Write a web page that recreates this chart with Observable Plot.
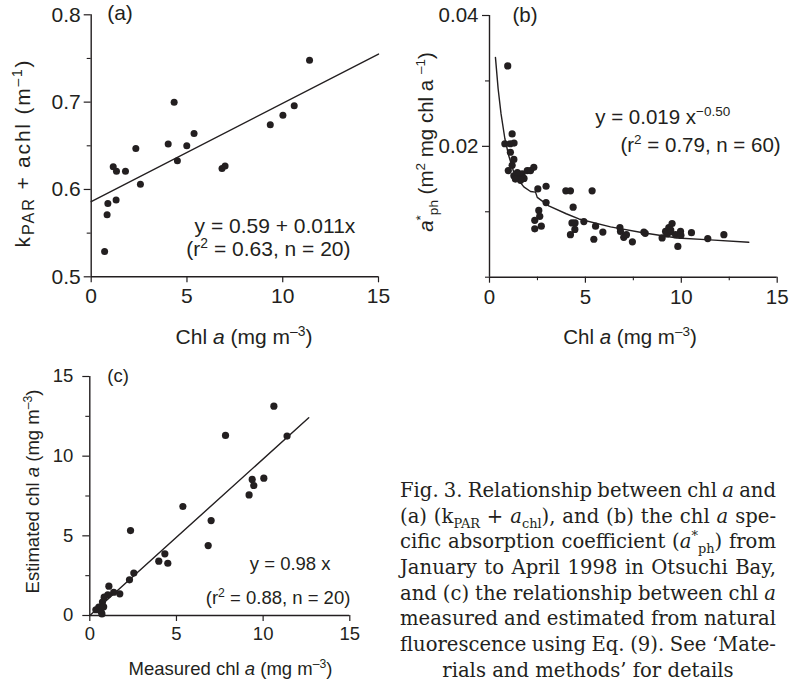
<!DOCTYPE html>
<html>
<head>
<meta charset="utf-8">
<script src="https://cdn.jsdelivr.net/npm/d3@7"></script>
<script src="https://cdn.jsdelivr.net/npm/@observablehq/plot@0.6"></script>
<style>
html,body{margin:0;padding:0;background:#fff;}
#fig{position:relative;width:807px;height:685px;overflow:hidden;background:#fff;}
#fig svg{position:absolute;overflow:visible;}
#caption{position:absolute;left:400px;top:478px;width:376px;font-family:"DejaVu Serif",serif;font-size:19.6px;color:#231f20;}
#caption .ln{height:25.7px;line-height:25.7px;white-space:nowrap;}
#caption .ln span.t{display:inline-block;}
#caption .ln.last{text-align:center;}
#caption sub,#caption sup{font-size:66%;line-height:0;}
</style>
</head>
<body>
<div id="fig"><div id="caption"></div></div>
<script>
// ---------- Panel (a): kPAR + achl vs Chl a ----------
const aChl  = [0.70,0.83,0.87,1.15,1.32,1.30,1.79,2.33,2.57,4.02,4.33,4.50,4.99,5.37,6.83,6.99,9.35,10.01,10.60,11.40];
const aKpar = [0.529,0.571,0.584,0.626,0.621,0.588,0.621,0.647,0.606,0.652,0.700,0.633,0.650,0.664,0.624,0.627,0.674,0.685,0.696,0.748];
const aFitChl = [0, 15];
const aFitK   = [0.586, 0.755];
const aXTicks = [0, 5, 10, 15];
const aYTicks = [0.5, 0.6, 0.7, 0.8];
const aYMinor = [0.55, 0.65, 0.75];

// ---------- Panel (b): a*ph vs Chl a ----------
const bChl = [0.95,1.18,0.80,1.08,1.28,1.09,1.27,1.18,0.98,1.27,1.50,1.70,1.80,1.45,1.97,2.14,2.31,1.62,2.52,2.95,
              2.95,2.57,2.62,2.36,2.70,2.36,3.98,4.22,5.35,4.36,4.30,4.46,4.45,4.22,4.92,5.53,5.91,5.44,6.80,6.83,
              7.00,7.14,7.45,8.05,8.12,9.00,9.18,9.35,9.52,9.40,9.70,9.96,9.98,9.82,10.53,11.38,12.22,9.25,9.45,1.35];
const bAph = [0.0323,0.0219,0.0204,0.0204,0.0205,0.0191,0.0180,0.0171,0.0163,0.0155,0.0153,0.0158,0.0151,0.0160,0.0163,0.0163,0.0168,0.0148,0.0135,0.0139,
              0.0114,0.0102,0.0093,0.0087,0.0078,0.0074,0.0132,0.0132,0.0132,0.0107,0.0083,0.0083,0.0073,0.0065,0.0085,0.0078,0.0069,0.0058,0.0076,0.0070,
              0.0061,0.0065,0.0054,0.0069,0.0067,0.0060,0.0070,0.0076,0.0082,0.0069,0.0065,0.0070,0.0064,0.0047,0.0068,0.0059,0.0065,0.0066,0.0072,0.0150];
const bCurveChl = [0.31,0.45,0.60,0.80,1.00,1.27,1.55,1.79,2.14,2.40,2.49,3.09,4.00,4.66,6.31,8.00,9.79,11.50,13.52];
const bCurveAph = [0.0336,0.0288,0.0250,0.0212,0.0186,0.0160,0.0147,0.0138,0.0131,0.0130,0.0122,0.0109,0.0097,0.0089,0.0077,0.0068,0.0060,0.0057,0.00535];
const bXTicks = [0, 5, 10, 15];
const bXMinor = [2.5, 7.5, 12.5];
const bYTicks = [0.02, 0.04];
const bYMinor = [0, 0.01, 0.03];

// ---------- Panel (c): estimated vs measured chl a ----------
const cMeas = [10.62,7.83,11.38,10.04,9.37,9.46,9.19,5.37,7.00,2.35,6.83,4.33,3.98,4.50,2.54,2.29,1.10,1.73,1.38,1.04,0.83,0.73,0.52,0.35,0.65,0.80,0.70];
const cEst  = [13.14,11.30,11.26,8.62,8.54,8.16,7.57,6.84,5.96,5.33,4.39,3.87,3.41,3.28,2.66,2.24,1.84,1.36,1.46,1.30,1.15,0.84,0.52,0.36,0.25,0.55,0.10];
const cFitMeas = [0, 12.63];
const cFitEst  = [0, 12.41];
const cXTicks = [0, 5, 10, 15];
const cYTicks = [0, 5, 10, 15];
const cYMinor = [2.5, 7.5, 12.5];

// ---------- Caption ----------
const captionLines = [
  "Fig. 3. Relationship between chl <i>a</i> and",
  "(a) (k<sub>PAR</sub> + <i>a</i><sub>chl</sub>), and (b) the chl <i>a</i> spe-",
  "cific absorption coefficient (<i>a</i><sup>*</sup><sub>ph</sub>) from",
  "January to April 1998 in Otsuchi Bay,",
  "and (c) the relationship between chl <i>a</i>",
  "measured and estimated from natural",
  "fluorescence using Eq. (9). See \u2018Mate-",
  "rials and methods\u2019 for details"
];

const INK = "#231f20";
const SANS = "'Liberation Sans', Arial, Helvetica, sans-serif";
const fig = document.getElementById("fig");
const pts = (xs, ys) => xs.map((x, i) => ({x, y: ys[i]}));

function makePlot(c) {
  const p = Plot.plot({
    width: c.width, height: c.height,
    marginLeft: c.mL, marginRight: c.mR, marginTop: c.mT, marginBottom: c.mB,
    x: {domain: c.xDom}, y: {domain: c.yDom},
    style: {fontFamily: SANS, fontSize: c.fs + "px", color: INK, background: "none", overflow: "visible"},
    marks: c.marks
  });
  p.style.left = c.left + "px";
  p.style.top = c.top + "px";
  fig.appendChild(p);
  return p;
}

function rich(svg, x, y, parts, o = {}) {
  const size = o.size;
  const t = d3.select(svg).append("text")
    .attr("fill", INK).attr("font-family", SANS).attr("font-size", size)
    .attr("text-anchor", o.anchor || "middle");
  if (o.ls) t.attr("letter-spacing", o.ls);
  if (o.rotate) t.attr("transform", `translate(${x},${y}) rotate(-90)`);
  else t.attr("x", x).attr("y", y);
  let cur = 0;
  for (const p of parts) {
    const target = p.sup ? -size * 0.38 : p.sub ? size * 0.22 : 0;
    const s = t.append("tspan").text(p.t);
    if (target - cur !== 0) s.attr("dy", target - cur);
    cur = target;
    if (p.sup || p.sub) s.attr("font-size", size * (p.scale || 0.66));
    if (p.i) s.attr("font-style", "italic");
  }
  return t;
}

function axes(xT, yT, xMinor, yMinor, fs, o) {
  const m = [
    Plot.ruleY([Math.min(...yT, ...yMinor)], {stroke: INK, strokeWidth: 1.4}),
    Plot.ruleX([Math.min(...xT)], {stroke: INK, strokeWidth: 1.4}),
    Plot.axisX(xT, {tickSize: 6, tickPadding: o.xPad, label: null, fontSize: fs, strokeWidth: 1.2}),
    Plot.axisY(yT, {tickSize: 7, tickPadding: o.yPad, label: null, fontSize: fs, strokeWidth: 1.2, tickFormat: o.yFmt})
  ];
  if (xMinor.length) m.push(Plot.axisX(xMinor, {tickSize: 3.5, label: null, tickFormat: () => "", strokeWidth: 1.1}));
  if (yMinor.length) m.push(Plot.axisY(yMinor, {tickSize: 4, label: null, tickFormat: () => "", strokeWidth: 1.1}));
  return m;
}

// Panel (a)
const pa = makePlot({
  left: 0, top: 0, width: 400, height: 350, mL: 90.7, mR: 22, mT: 14.3, mB: 73.7,
  xDom: [aXTicks[0], aXTicks[3]], yDom: [aYTicks[0], aYTicks[3]], fs: 21,
  marks: [
    ...axes(aXTicks, aYTicks, [], aYMinor, 21, {xPad: 5, yPad: 3.5, yFmt: d => d.toFixed(1)}),
    Plot.line(pts(aFitChl, aFitK), {x: "x", y: "y", stroke: INK, strokeWidth: 1.4}),
    Plot.dot(pts(aChl, aKpar), {x: "x", y: "y", r: 3.5, fill: INK, stroke: "none"})
  ]
});
{
  const sx = pa.scale("x"), sy = pa.scale("y");
  rich(pa, sx.apply(1.53), sy.apply(0.794), [{t: "(a)"}], {size: 21});
  rich(pa, sx.apply(9.62), sy.apply(0.550), [{t: "y = 0.59 + 0.011x"}], {size: 21});
  rich(pa, sx.apply(9.28), sy.apply(0.523), [{t: "(r"}, {t: "2", sup: 1}, {t: " = 0.63, n = 20)"}], {size: 21});
  rich(pa, 244, 344, [{t: "Chl "}, {t: "a", i: 1}, {t: " (mg m"}, {t: "\u20133", sup: 1}, {t: ")"}], {size: 21});
  rich(pa, 29.5, 153, [{t: "k"}, {t: "PAR", sub: 1, scale: 0.78}, {t: " + achl (m"}, {t: "\u20131", sup: 1}, {t: ")"}], {size: 21, rotate: true, ls: 1.8});
}

// Panel (b)
const pb = makePlot({
  left: 400, top: 0, width: 407, height: 350, mL: 89, mR: 30.3, mT: 15, mB: 73.3,
  xDom: [bXTicks[0], bXTicks[3]], yDom: [bYMinor[0], bYTicks[1]], fs: 20.5,
  marks: [
    ...axes(bXTicks, bYTicks, bXMinor, bYMinor, 20.5, {xPad: 6, yPad: 4, yFmt: d => d.toFixed(2)}),
    Plot.line(pts(bCurveChl, bCurveAph), {x: "x", y: "y", stroke: INK, strokeWidth: 1.4, curve: "linear"}),
    Plot.dot(pts(bChl, bAph), {x: "x", y: "y", r: 3.6, fill: INK, stroke: "none"})
  ]
});
{
  const sx = pb.scale("x"), sy = pb.scale("y");
  rich(pb, sx.apply(1.88), sy.apply(0.039), [{t: "(b)"}], {size: 20.5});
  rich(pb, sx.apply(9.06), sy.apply(0.02335), [{t: "y = 0.019 x"}, {t: "\u22120.50", sup: 1}], {size: 20.5});
  rich(pb, sx.apply(11.03), sy.apply(0.01911), [{t: "(r"}, {t: "2", sup: 1}, {t: " = 0.79, n = 60)"}], {size: 20.5});
  rich(pb, 230, 343.5, [{t: "Chl "}, {t: "a", i: 1}, {t: " (mg m"}, {t: "\u20133", sup: 1}, {t: ")"}], {size: 20.5});
  rich(pb, 33, 142, [{t: "a", i: 1}, {t: "*", sup: 1}, {t: "ph", sub: 1}, {t: " (m"}, {t: "2", sup: 1}, {t: " mg chl a "}, {t: "\u20131", sup: 1}, {t: ")"}], {size: 20.5, rotate: true});
}

// Panel (c)
const pc = makePlot({
  left: 0, top: 350, width: 400, height: 335, mL: 89.3, mR: 50.7, mT: 26, mB: 70,
  xDom: [cXTicks[0], cXTicks[3]], yDom: [cYTicks[0], cYTicks[3]], fs: 18.5,
  marks: [
    ...axes(cXTicks, cYTicks, [], cYMinor, 18.5, {xPad: 5, yPad: 9.5, yFmt: d => String(d)}),
    Plot.line(pts(cFitMeas, cFitEst), {x: "x", y: "y", stroke: INK, strokeWidth: 1.4}),
    Plot.dot(pts(cMeas, cEst), {x: "x", y: "y", r: 3.6, fill: INK, stroke: "none"})
  ]
});
{
  const sx = pc.scale("x"), sy = pc.scale("y");
  rich(pc, sx.apply(1.66), sy.apply(14.65), [{t: "(c)"}], {size: 18.5});
  rich(pc, sx.apply(11.59), sy.apply(2.82), [{t: "y = 0.98 x"}], {size: 18.5});
  rich(pc, sx.apply(10.89), sy.apply(0.69), [{t: "(r"}, {t: "2", sup: 1}, {t: " = 0.88, n = 20)"}], {size: 18.5});
  rich(pc, 230.5, 325, [{t: "Measured chl "}, {t: "a", i: 1}, {t: " (mg m"}, {t: "\u20133", sup: 1}, {t: ")"}], {size: 18.5});
  rich(pc, 39.3, 141.5, [{t: "Estimated chl "}, {t: "a", i: 1}, {t: " (mg m"}, {t: "\u20133", sup: 1}, {t: ")"}], {size: 18.5, rotate: true});
}

// Caption (justified lines, last centred)
const cap = document.getElementById("caption");
const W = 376;
captionLines.forEach((html, i) => {
  const ln = document.createElement("div");
  ln.className = "ln" + (i === captionLines.length - 1 ? " last" : "");
  const sp = document.createElement("span");
  sp.className = "t";
  sp.innerHTML = html;
  ln.appendChild(sp);
  cap.appendChild(ln);
  if (i < captionLines.length - 1) {
    const w = sp.getBoundingClientRect().width;
    const gaps = (sp.textContent.match(/ /g) || []).length;
    if (gaps) sp.style.wordSpacing = ((W - w) / gaps) + "px";
  }
});
</script>
</body>
</html>
